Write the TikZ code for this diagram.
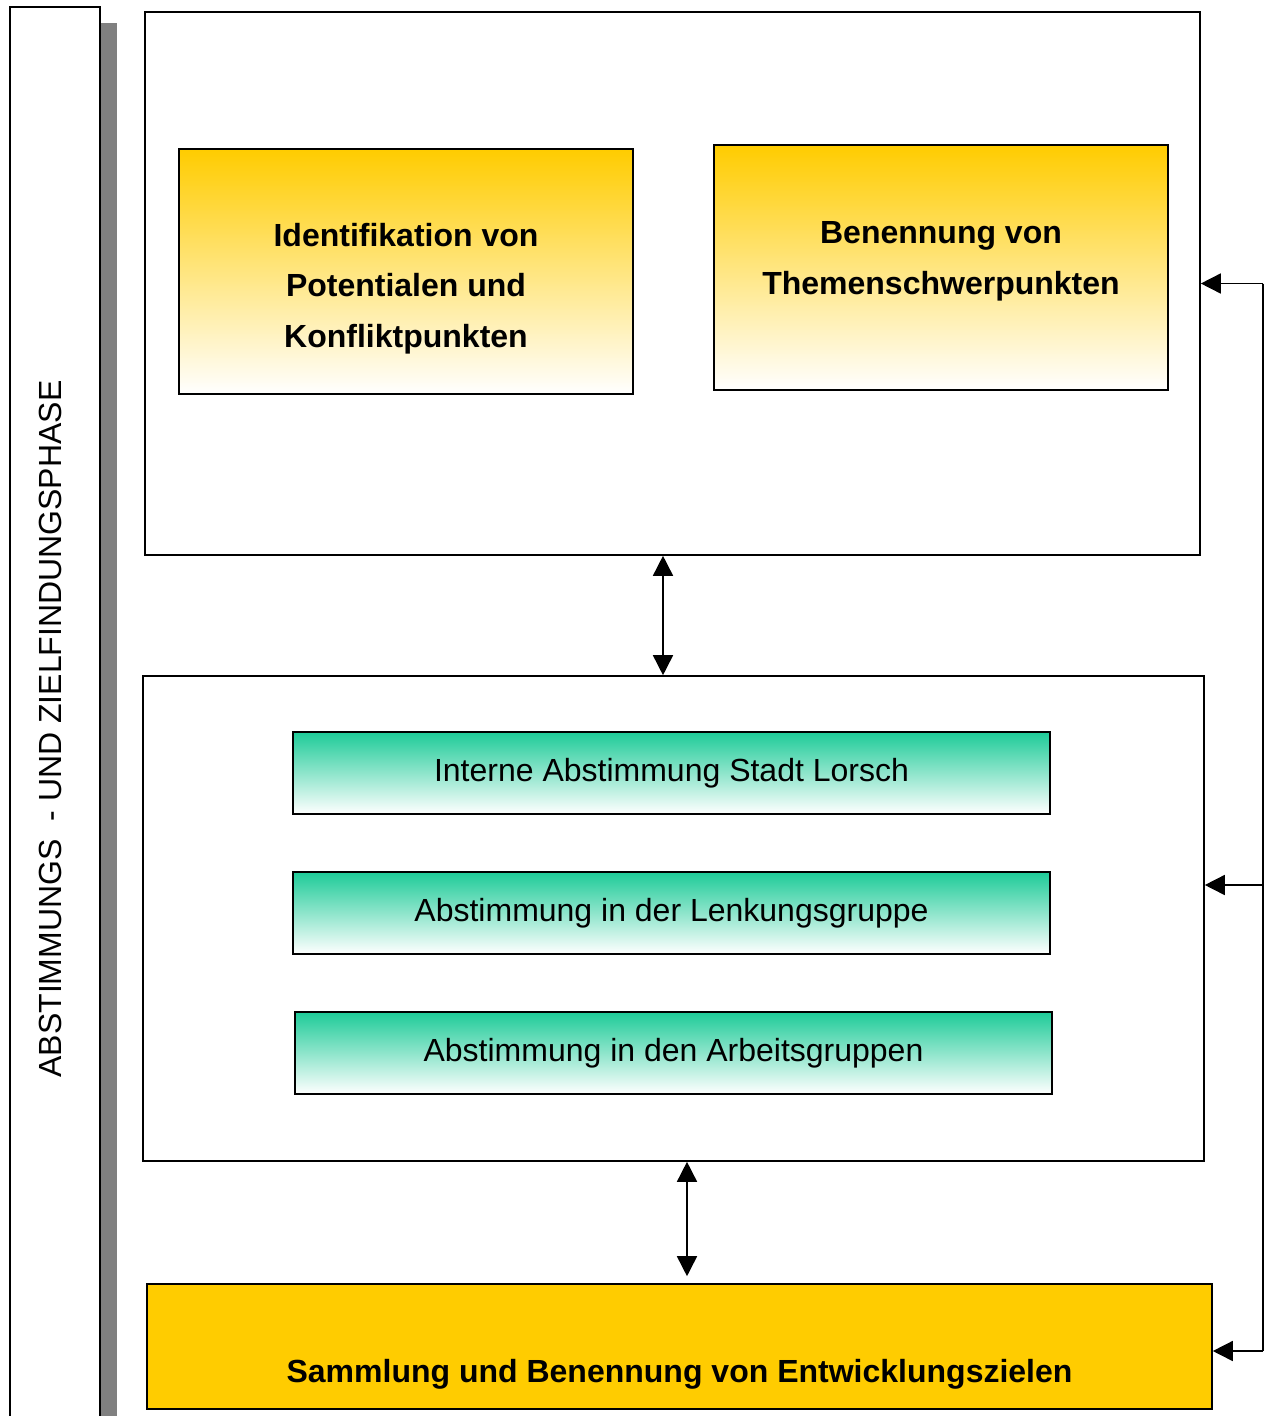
\documentclass[tikz,border=0pt]{standalone}
\usepackage{fontspec}
\setmainfont{Liberation Sans}
\usetikzlibrary{arrows.meta}

\definecolor{gold}{HTML}{FFCC00}
\definecolor{mint}{HTML}{1ECB98}
\definecolor{bargray}{HTML}{808080}

\tikzset{
  frame/.style={draw, line width=1.6pt, fill=white},
  goldbox/.style={draw, line width=1.6pt, top color=gold, bottom color=white,
    minimum width=454pt, minimum height=245pt},
  mintbox/.style={draw, line width=1.6pt, top color=mint, bottom color=white,
    minimum width=757pt, minimum height=82pt, font=\fontsize{32}{38}\selectfont},
  boldtxt/.style={align=center, font=\fontsize{32}{50.5}\selectfont\bfseries},
  link/.style={line width=1.6pt, -{Triangle[length=20pt,width=20pt]}},
  twoway/.style={line width=1.6pt, {Triangle[length=20pt,width=20pt]}-{Triangle[length=20pt,width=20pt]}}
}

\begin{document}
\begin{tikzpicture}[x=1pt, y=-1pt]
  \useasboundingbox (0,0) rectangle (1268,1416);

  % Phase bar on the left with its shadow
  \fill[bargray] (100,23) rectangle (117,1460);
  \draw[frame] (10,7) rectangle (100,1460);
  \node[rotate=90, font=\fontsize{32}{38}\selectfont]
    (phase) at (50,729) {ABSTIMMUNGS\ \ - UND ZIELFINDUNGSPHASE};

  % Upper frame with the two gold boxes
  \node[frame, minimum width=1055pt, minimum height=543pt] (top) at (672.5,283.5) {};
  \node[goldbox] (ident) at (406,271.5) {};
  \node[boldtxt] at ([yshift=-17pt]ident.center)
    {Identifikation von\\Potentialen und\\Konfliktpunkten};
  \node[goldbox] (themen) at (941,267.5) {};
  \node[boldtxt] at ([yshift=6pt]themen.center)
    {Benennung von\\Themenschwerpunkten};

  % Middle frame with the three votes
  \node[frame, minimum width=1061pt, minimum height=485pt] (mid) at (673.5,918.5) {};
  \node[mintbox] (intern) at (671.5,773) {Interne Abstimmung Stadt Lorsch};
  \node[mintbox] (lenkung) at (671.5,913) {Abstimmung in der Lenkungsgruppe};
  \node[mintbox] (arbeit) at (673.5,1053) {Abstimmung in den Arbeitsgruppen};

  % Result box
  \node[draw, line width=1.6pt, fill=gold, minimum width=1065pt, minimum height=125pt]
    (ziele) at (679.5,1346.5) {};
  \node[boldtxt] at ([yshift=-28pt]ziele.center)
    {Sammlung und Benennung von Entwicklungszielen};

  % Arrows between the frames
  \draw[twoway] ([xshift=-9.5pt]top.south) -- ([xshift=-10.5pt]mid.north);
  \draw[twoway] ([xshift=13.5pt]mid.south) -- ([xshift=7.5pt,yshift=7pt]ziele.north);

  % Feedback line on the right
  \coordinate (r1) at (1263,283.5);
  \coordinate (r2) at (1263,885);
  \coordinate (r3) at (1263,1351);
  \draw[line width=1.6pt] (r1) -- (r3);
  \draw[link] (r1) -- (top.east);
  \draw[link] (r2) -- (mid.east |- r2);
  \draw[link] (r3) -- (ziele.east |- r3);
\end{tikzpicture}
\end{document}
